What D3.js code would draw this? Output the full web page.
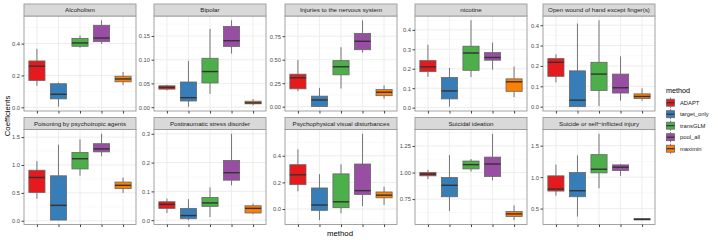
<!DOCTYPE html>
<html>
<head>
<meta charset="utf-8">
<script src="https://cdn.jsdelivr.net/npm/d3@7"></script>
<style>
  body { margin: 0; background: #fff; }
  svg { display: block; font-family: "Liberation Sans", Arial, sans-serif; }
</style>
</head>
<body>
<svg id="chart" width="718" height="240"></svg>
<script>
const methods = ["ADAPT", "target_only", "transGLM", "pool_all", "maximin"];
const colours = ["#E41A1C", "#377EB8", "#4DAF4A", "#984EA3", "#FF7F00"];

// each box: [whisker low, q1, median, q3, whisker high]
const alcoholism = [
  [0.135, 0.168, 0.258, 0.291, 0.367],
  [0.004, 0.053, 0.082, 0.148, 0.156],
  [0.373, 0.383, 0.404, 0.433, 0.451],
  [0.398, 0.412, 0.435, 0.515, 0.546],
  [0.140, 0.160, 0.178, 0.195, 0.222]
];
const bipolar = [
  [0.035, 0.038, 0.0415, 0.045, 0.047],
  [0.001, 0.013, 0.020, 0.053, 0.0975],
  [0.028, 0.051, 0.075, 0.103, 0.165],
  [0.113, 0.128, 0.140, 0.170, 0.183],
  [0.0035, 0.007, 0.009, 0.0125, 0.017]
];
const injuries = [
  [0.165, 0.190, 0.307, 0.346, 0.495],
  [0.000, 0.002, 0.071, 0.112, 0.200],
  [0.193, 0.339, 0.425, 0.490, 0.633],
  [0.575, 0.606, 0.696, 0.780, 0.919],
  [0.085, 0.117, 0.154, 0.182, 0.227]
];
const nicotine = [
  [0.158, 0.185, 0.210, 0.242, 0.323],
  [0.005, 0.045, 0.086, 0.155, 0.204],
  [0.157, 0.192, 0.281, 0.316, 0.449],
  [0.195, 0.244, 0.258, 0.283, 0.335],
  [0.054, 0.084, 0.133, 0.148, 0.212]
];
const openWound = [
  [0.119, 0.149, 0.218, 0.236, 0.257],
  [0.000, 0.000, 0.032, 0.176, 0.408],
  [0.003, 0.080, 0.160, 0.218, 0.424],
  [0.029, 0.067, 0.093, 0.160, 0.247],
  [0.029, 0.040, 0.050, 0.063, 0.090]
];
const poisoning = [
  [0.394, 0.506, 0.776, 0.906, 1.070],
  [0.010, 0.012, 0.276, 0.806, 1.365],
  [0.806, 0.929, 1.112, 1.224, 1.459],
  [1.159, 1.235, 1.288, 1.382, 1.559],
  [0.500, 0.576, 0.635, 0.694, 0.776]
];
const ptsd = [
  [0.025, 0.041, 0.055, 0.064, 0.075],
  [0.000, 0.005, 0.016, 0.041, 0.073],
  [0.011, 0.048, 0.060, 0.079, 0.114],
  [0.121, 0.139, 0.165, 0.2075, 0.300],
  [0.021, 0.025, 0.041, 0.050, 0.057]
];
const visual = [
  [0.133, 0.183, 0.257, 0.333, 0.449],
  [-0.084, -0.010, 0.030, 0.158, 0.262],
  [-0.032, 0.010, 0.054, 0.264, 0.336],
  [0.022, 0.109, 0.138, 0.338, 0.565],
  [0.030, 0.084, 0.104, 0.128, 0.168]
];
const ideation = [
  [0.938, 0.969, 0.985, 1.000, 1.025],
  [0.639, 0.772, 0.880, 0.954, 1.164],
  [1.009, 1.034, 1.074, 1.108, 1.127],
  [0.926, 0.963, 1.080, 1.145, 1.364],
  [0.552, 0.586, 0.611, 0.633, 0.691]
];
const selfInjury = [
  [0.705, 0.779, 0.811, 1.021, 1.200],
  [0.374, 0.689, 0.784, 1.074, 1.347],
  [0.821, 1.068, 1.126, 1.358, 1.689],
  [1.021, 1.105, 1.158, 1.195, 1.210],
  [0.316, 0.320, 0.330, 0.340, 0.345]
];

const titles = [
  "Alcoholism", "Bipolar", "Injuries to the nervous system", "nicotine",
  "Open wound of hand except finger(s)", "Poisoning by psychotropic agents",
  "Posttraumatic stress disorder", "Psychophysical visual disturbances",
  "Suicidal ideation", "Suicide or self\u2212inflicted injury"
];
const panelData = [alcoholism, bipolar, injuries, nicotine, openWound,
  poisoning, ptsd, visual, ideation, selfInjury];
const yTicks = [
  [0, 0.2, 0.4], [0, 0.05, 0.10, 0.15], [0, 0.25, 0.5, 0.75],
  [0, 0.1, 0.2, 0.3, 0.4], [0, 0.1, 0.2, 0.3, 0.4],
  [0, 0.5, 1.0, 1.5], [0, 0.1, 0.2, 0.3], [0, 0.2, 0.4],
  [0.75, 1.00, 1.25], [0.5, 1.0, 1.5]
];
const tickDigits = [1, 2, 2, 1, 1, 1, 1, 1, 2, 1];

const svg = d3.select("#chart");
const colLeft = [24, 154, 285, 415, 543];
const rowTop = [4, 117.5];
const pw = 112, stripH = 12, ph = 95;

const x = d3.scalePoint().domain(methods).range([0, pw]).padding(0.6);
const boxW = x.step() * 0.75;

panelData.forEach(function(data, i) {
  const col = i % 5, row = Math.floor(i / 5);
  const g = svg.append("g")
      .attr("transform", "translate(" + colLeft[col] + "," + (rowTop[row] + stripH) + ")");

  const lo = d3.min(data, d => d[0]);
  const hi = d3.max(data, d => d[4]);
  const pad = (hi - lo) * 0.05;
  const y = d3.scaleLinear().domain([lo - pad, hi + pad]).range([ph, 0]);

  // grid
  const ticks = yTicks[i];
  const step = ticks[1] - ticks[0];
  const minors = [];
  for (let k = -1; k < ticks.length; k++) {
    const v = ticks[0] + step * (k + 0.5);
    if (v > y.domain()[0] && v < y.domain()[1]) minors.push(v);
  }
  g.selectAll(".minor").data(minors).join("line")
      .attr("x1", 0).attr("x2", pw)
      .attr("y1", d => y(d)).attr("y2", d => y(d))
      .attr("stroke", "#f3f3f3").attr("stroke-width", 0.5);
  g.selectAll(".major").data(ticks).join("line")
      .attr("x1", 0).attr("x2", pw)
      .attr("y1", d => y(d)).attr("y2", d => y(d))
      .attr("stroke", "#e8e8e8").attr("stroke-width", 0.8);
  g.selectAll(".vgrid").data(methods).join("line")
      .attr("x1", d => x(d)).attr("x2", d => x(d))
      .attr("y1", 0).attr("y2", ph)
      .attr("stroke", "#e8e8e8").attr("stroke-width", 0.8);

  // boxes
  const box = g.selectAll(".box").data(data).join("g");
  box.append("line")
      .attr("x1", (d, j) => x(methods[j])).attr("x2", (d, j) => x(methods[j]))
      .attr("y1", d => y(d[0])).attr("y2", d => y(d[1]))
      .attr("stroke", "#666").attr("stroke-width", 0.9);
  box.append("line")
      .attr("x1", (d, j) => x(methods[j])).attr("x2", (d, j) => x(methods[j]))
      .attr("y1", d => y(d[3])).attr("y2", d => y(d[4]))
      .attr("stroke", "#666").attr("stroke-width", 0.9);
  box.append("rect")
      .attr("x", (d, j) => x(methods[j]) - boxW / 2)
      .attr("width", boxW)
      .attr("y", d => y(d[3]))
      .attr("height", d => Math.max(0.5, y(d[1]) - y(d[3])))
      .attr("fill", (d, j) => colours[j])
      .attr("stroke", "#666").attr("stroke-width", 0.8);
  box.append("line")
      .attr("x1", (d, j) => x(methods[j]) - boxW / 2)
      .attr("x2", (d, j) => x(methods[j]) + boxW / 2)
      .attr("y1", d => y(d[2])).attr("y2", d => y(d[2]))
      .attr("stroke", "#333").attr("stroke-width", 1.4);

  // border
  g.append("rect").attr("width", pw).attr("height", ph)
      .attr("fill", "none").attr("stroke", "#9a9a9a").attr("stroke-width", 0.9);

  // axes
  const yAxis = g.append("g")
      .call(d3.axisLeft(y).tickValues(ticks).tickSize(2.5).tickPadding(1.5)
        .tickFormat(d3.format("." + tickDigits[i] + "f")));
  yAxis.select(".domain").remove();
  yAxis.selectAll("line").attr("stroke", "#444");
  yAxis.selectAll("text").attr("font-size", 5.8).attr("fill", "#4d4d4d")
      .attr("font-family", "Liberation Sans, Arial, sans-serif");

  const xAxis = g.append("g").attr("transform", "translate(0," + ph + ")")
      .call(d3.axisBottom(x).tickSize(2.5).tickFormat(""));
  xAxis.select(".domain").remove();
  xAxis.selectAll("line").attr("stroke", "#444");

  // strip
  g.append("rect").attr("y", -stripH).attr("width", pw).attr("height", stripH)
      .attr("fill", "#d9d9d9").attr("stroke", "#9a9a9a").attr("stroke-width", 0.9);
  g.append("text").attr("x", pw / 2).attr("y", -stripH / 2)
      .attr("dy", "0.35em").attr("text-anchor", "middle")
      .attr("font-size", 6.2).attr("fill", "#1a1a1a")
      .text(titles[i]);
});

// axis titles
svg.append("text")
    .attr("transform", "translate(10,116) rotate(-90)")
    .attr("text-anchor", "middle").attr("font-size", 7.8).attr("fill", "#000")
    .text("Coefficients");
svg.append("text")
    .attr("x", 340).attr("y", 236)
    .attr("text-anchor", "middle").attr("font-size", 7.8).attr("fill", "#000")
    .text("method");

// legend
const legend = svg.append("g").attr("transform", "translate(666,0)");
legend.append("text").attr("x", 0).attr("y", 92.5)
    .attr("font-size", 7.2).attr("fill", "#000").text("method");
const item = legend.selectAll(".item").data(methods).join("g")
    .attr("transform", (d, j) => "translate(0," + (102.7 + j * 11.5) + ")");
item.append("line").attr("x1", 4.5).attr("x2", 4.5).attr("y1", -5).attr("y2", 5)
    .attr("stroke", "#666").attr("stroke-width", 0.9);
item.append("rect").attr("x", 0.5).attr("y", -3.5).attr("width", 8).attr("height", 7)
    .attr("fill", (d, j) => colours[j]).attr("stroke", "#666").attr("stroke-width", 0.8);
item.append("line").attr("x1", 0.5).attr("x2", 8.5).attr("y1", 0).attr("y2", 0)
    .attr("stroke", "#333").attr("stroke-width", 1.2);
item.append("text").attr("x", 14).attr("dy", "0.35em")
    .attr("font-size", 5.8).attr("fill", "#1a1a1a").text(d => d);
</script>
</body>
</html>
